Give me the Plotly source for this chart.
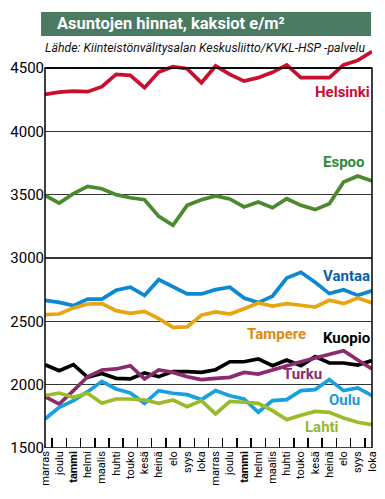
import plotly.graph_objects as go

months = ["marras", "joulu", "tammi", "helmi", "maalis", "huhti", "touko", "kesä",
          "heinä", "elo", "syys", "loka",
          "marras", "joulu", "tammi", "helmi", "maalis", "huhti", "touko", "kesä",
          "heinä", "elo", "syys", "loka"]

helsinki = [4292, 4310, 4318, 4313, 4353, 4450, 4442, 4345, 4468, 4510, 4495, 4384,
            4516, 4450, 4397, 4424, 4466, 4524, 4424, 4424, 4424, 4524, 4560, 4630]
espoo = [3495, 3434, 3508, 3566, 3547, 3500, 3476, 3460, 3329, 3258, 3416, 3460,
         3490, 3466, 3403, 3442, 3397, 3468, 3416, 3382, 3429, 3600, 3647, 3608]
vantaa = [2666, 2650, 2624, 2676, 2676, 2745, 2769, 2705, 2829, 2771, 2716, 2716,
          2750, 2769, 2684, 2648, 2698, 2842, 2887, 2808, 2719, 2750, 2705, 2742]
tampere = [2553, 2558, 2606, 2637, 2640, 2584, 2563, 2579, 2521, 2453, 2456, 2548,
           2574, 2558, 2600, 2645, 2621, 2640, 2627, 2613, 2666, 2640, 2684, 2645]
kuopio = [2158, 2110, 2158, 2058, 2089, 2050, 2045, 2092, 2063, 2103, 2103, 2097,
          2118, 2181, 2181, 2203, 2150, 2195, 2150, 2221, 2171, 2171, 2155, 2190]
turku = [1905, 1847, 1953, 2063, 2116, 2124, 2150, 2045, 2116, 2097, 2063, 2040,
         2050, 2058, 2097, 2084, 2116, 2150, 2181, 2210, 2237, 2268, 2195, 2124]
oulu = [1729, 1821, 1874, 1945, 2026, 1966, 1934, 1853, 1953, 1932, 1921, 1882,
        1953, 1913, 1887, 1782, 1874, 1882, 1953, 1961, 2040, 1953, 1974, 1913]
lahti = [1913, 1934, 1900, 1932, 1853, 1887, 1887, 1879, 1853, 1879, 1826, 1874,
         1769, 1868, 1861, 1853, 1795, 1724, 1758, 1789, 1782, 1737, 1703, 1684]

y_ticks = [1500, 2000, 2500, 3000, 3500, 4000, 4500]

cats = [str(i) for i in range(len(months))]
ticktext = [f"<b>{m}</b>" if m == "tammi" else m for m in months]

series = [
    # name, values, line colour, label colour, label x (category idx), label y, xanchor
    ("Helsinki", helsinki, "#c8102e", "#c8102e", 23.0, 4310, "right"),
    ("Espoo", espoo, "#4b8a2c", "#2e8b3a", 21.0, 3758, "center"),
    ("Vantaa", vantaa, "#0a88d4", "#0b5fa8", 23.0, 2858, "right"),
    ("Tampere", tampere, "#e8a512", "#e08a10", 16.3, 2400, "center"),
    ("Kuopio", kuopio, "#000000", "#000000", 23.0, 2370, "right"),
    ("Turku", turku, "#8a2b6e", "#8a2b6e", 18.1, 2084, "center"),
    ("Oulu", oulu, "#1aa0e0", "#1a9ad8", 21.1, 1879, "center"),
    ("Lahti", lahti, "#9cbb2a", "#98b82a", 19.5, 1668, "center"),
]

fig = go.Figure()
for name, vals, col, lcol, lx, ly, xa in series:
    fig.add_trace(go.Scatter(x=cats, y=vals, mode="lines", name=name,
                             line=dict(color=col, width=3.7), cliponaxis=False))
    fig.add_annotation(x=lx, y=ly, xref="x", yref="y", text=f"<b>{name}</b>",
                       showarrow=False, xanchor=xa, yanchor="middle",
                       font=dict(family="Roboto", size=15, color=lcol))

# frame
fig.add_shape(type="rect", xref="x domain", yref="y", x0=0, x1=1, y0=1500, y1=4500,
              line=dict(color="#000000", width=1.5), layer="above")

# title bar
fig.add_shape(type="rect", xref="paper", yref="paper", x0=-0.012, x1=0.997,
              y0=1.0326, y1=1.0927, fillcolor="#4a7a62", line=dict(width=0), layer="below")
fig.add_annotation(x=0.03, y=1.0627, xref="paper", yref="paper", showarrow=False,
                   text="<b>Asuntojen hinnat, kaksiot e/m²</b>", xanchor="left", yanchor="middle",
                   font=dict(family="Roboto", size=16.5, color="white"))
fig.add_annotation(x=-0.006, y=1.003, xref="paper", yref="paper", showarrow=False,
                   text="<i>Lähde: Kiinteistönvälitysalan Keskusliitto/KVKL-HSP -palvelu</i>",
                   xanchor="left", yanchor="middle",
                   font=dict(family="Roboto", size=12.3, color="#111111"))

fig.update_layout(
    width=385, height=499,
    margin=dict(l=45, r=13, t=49, b=51),
    paper_bgcolor="white", plot_bgcolor="white",
    showlegend=False,
    xaxis=dict(type="category", categoryorder="array", categoryarray=cats,
               tickvals=cats, ticktext=ticktext, tickangle=-90,
               tickson="boundaries", ticks="inside", ticklen=10, tickwidth=1.5,
               tickcolor="#000000", showgrid=False, showline=False, zeroline=False,
               automargin=False,
               tickfont=dict(family="Roboto", size=11, color="#000000")),
    yaxis=dict(range=[1500, 4650], tickvals=y_ticks, showgrid=True,
               gridcolor="#333333", gridwidth=1.5, zeroline=False, showline=False,
               ticks="", automargin=False,
               tickfont=dict(family="Roboto", size=15, color="#000000")),
)

fig.write_html("out.html", config={"displayModeBar": False, "staticPlot": True},
               post_script="document.body.style.margin='0px';document.body.style.overflow='hidden';")
